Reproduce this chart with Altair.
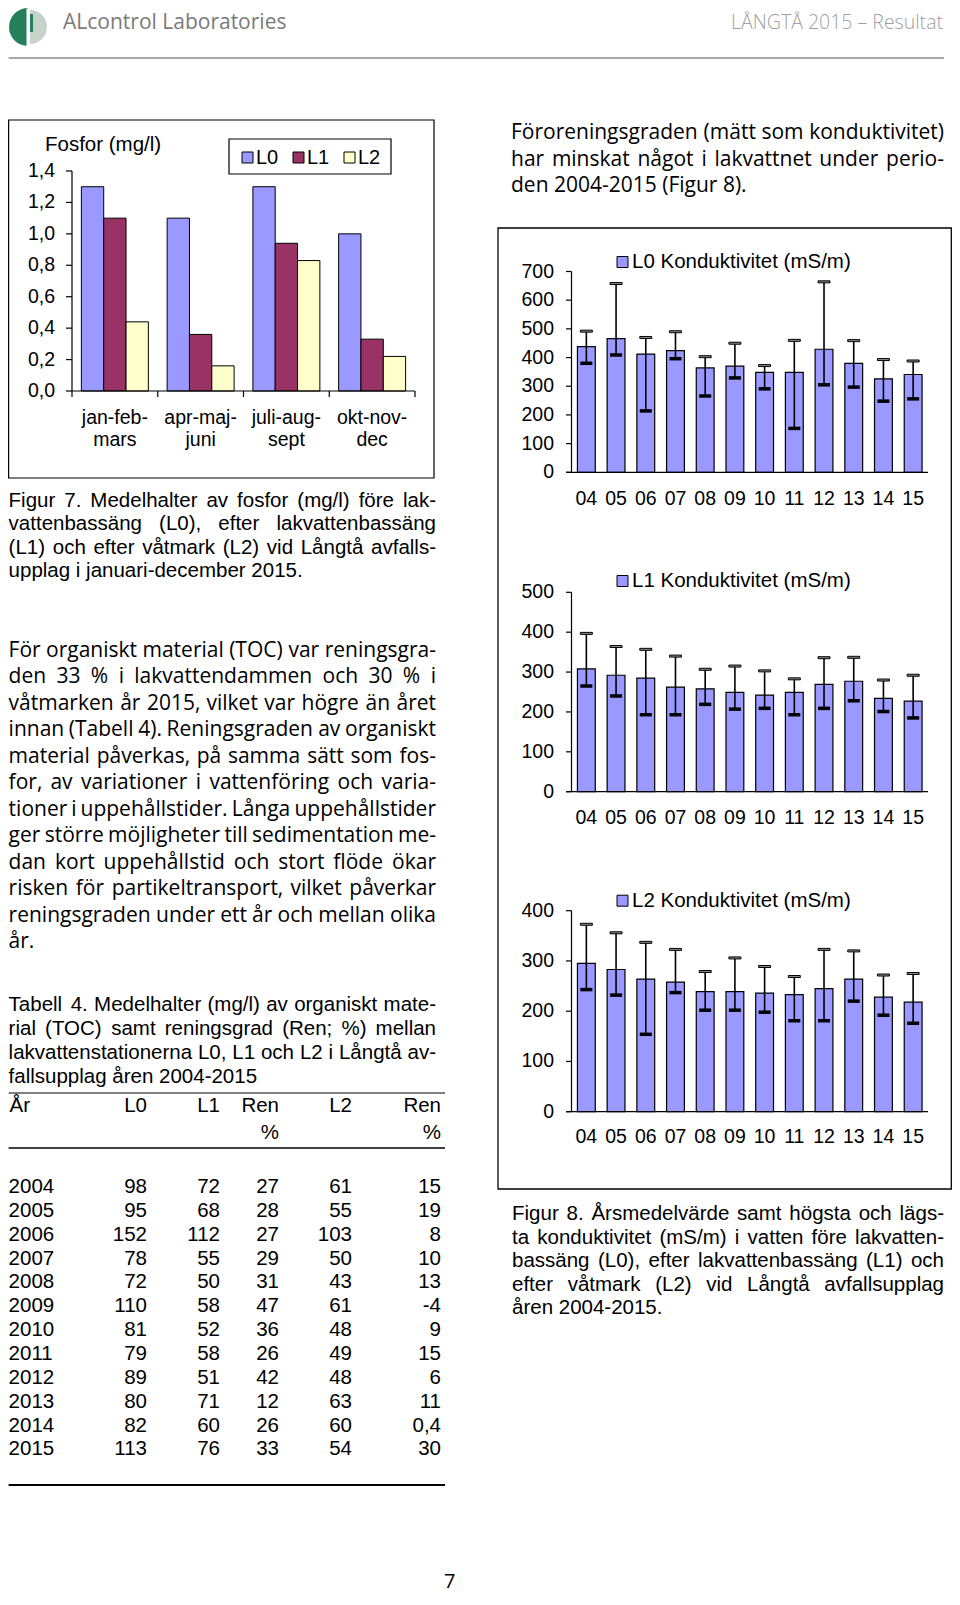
import altair as alt
import pandas as pd

# ---------------- data ----------------
FOSFOR_PERIODS = ["jan-feb-mars", "apr-maj-juni", "juli-aug-sept", "okt-nov-dec"]
FOSFOR_LABEL_1 = ["jan-feb-", "apr-maj-", "juli-aug-", "okt-nov-"]
FOSFOR_LABEL_2 = ["mars", "juni", "sept", "dec"]
FOSFOR_SERIES = ["L0", "L1", "L2"]
FOSFOR_L0 = [1.30, 1.10, 1.30, 1.00]
FOSFOR_L1 = [1.10, 0.36, 0.94, 0.33]
FOSFOR_L2 = [0.44, 0.16, 0.83, 0.22]
FOSFOR_TICKS = [0.0, 0.2, 0.4, 0.6, 0.8, 1.0, 1.2, 1.4]
FOSFOR_TICK_LABELS = ["0,0", "0,2", "0,4", "0,6", "0,8", "1,0", "1,2", "1,4"]
FOSFOR_TITLE = "Fosfor (mg/l)"

YEARS = ["04", "05", "06", "07", "08", "09", "10", "11", "12", "13", "14", "15"]
L0_MEAN = [438, 466, 412, 424, 364, 370, 348, 348, 429, 380, 326, 341]
L0_MAX = [492, 658, 470, 490, 403, 450, 372, 460, 664, 459, 393, 388]
L0_MIN = [380, 409, 214, 396, 266, 329, 291, 153, 305, 297, 248, 256]
L1_MEAN = [308, 292, 285, 262, 258, 249, 242, 249, 269, 277, 234, 227]
L1_MAX = [397, 364, 357, 340, 307, 315, 303, 283, 336, 337, 280, 292]
L1_MIN = [265, 240, 193, 193, 219, 207, 209, 193, 209, 228, 201, 185]
L2_MEAN = [295, 283, 264, 258, 239, 239, 236, 233, 245, 264, 228, 218]
L2_MAX = [373, 356, 337, 323, 279, 306, 289, 269, 323, 320, 272, 275]
L2_MIN = [243, 232, 154, 237, 202, 202, 198, 181, 181, 220, 192, 176]
L0_TICKS = [0, 100, 200, 300, 400, 500, 600, 700]
L1_TICKS = [0, 100, 200, 300, 400, 500]
L2_TICKS = [0, 100, 200, 300, 400]
KOND_TITLES = ["L0 Konduktivitet (mS/m)", "L1 Konduktivitet (mS/m)", "L2 Konduktivitet (mS/m)"]

TABLE_HEAD = ["År", "L0", "L1", "Ren", "L2", "Ren"]
TABLE_HEAD2 = ["", "", "", "%", "", "%"]
TABLE_YEAR = ["2004", "2005", "2006", "2007", "2008", "2009", "2010", "2011", "2012", "2013", "2014", "2015"]
TABLE_L0 = ["98", "95", "152", "78", "72", "110", "81", "79", "89", "80", "82", "113"]
TABLE_L1 = ["72", "68", "112", "55", "50", "58", "52", "58", "51", "71", "60", "76"]
TABLE_REN1 = ["27", "28", "27", "29", "31", "47", "36", "26", "42", "12", "26", "33"]
TABLE_L2 = ["61", "55", "103", "50", "43", "61", "48", "49", "48", "63", "60", "54"]
TABLE_REN2 = ["15", "19", "8", "10", "13", "-4", "9", "15", "6", "11", "0,4", "30"]

HEADER_LEFT = "ALcontrol Laboratories"
HEADER_RIGHT = "LÅNGTÅ 2015 – Resultat"
PAGE_NO = "7"

FIG7_CAPTION = [
    "Figur 7. Medelhalter av fosfor (mg/l) före lak-",
    "vattenbassäng (L0), efter lakvattenbassäng",
    "(L1) och efter våtmark (L2) vid Långtå avfalls-",
    "upplag i januari-december 2015.",
]
LEFT_PARAGRAPH = [
    "För organiskt material (TOC) var reningsgra-",
    "den 33 % i lakvattendammen och 30 % i",
    "våtmarken år 2015, vilket var högre än året",
    "innan (Tabell 4). Reningsgraden av organiskt",
    "material påverkas, på samma sätt som fos-",
    "for, av variationer i vattenföring och varia-",
    "tioner i uppehållstider. Långa uppehållstider",
    "ger större möjligheter till sedimentation me-",
    "dan kort uppehållstid och stort flöde ökar",
    "risken för partikeltransport, vilket påverkar",
    "reningsgraden under ett år och mellan olika",
    "år.",
]
TABLE_CAPTION = [
    "Tabell 4. Medelhalter (mg/l) av organiskt mate-",
    "rial (TOC) samt reningsgrad (Ren; %) mellan",
    "lakvattenstationerna L0, L1 och L2 i Långtå av-",
    "fallsupplag åren 2004-2015",
]
RIGHT_PARAGRAPH = [
    "Föroreningsgraden (mätt som konduktivitet)",
    "har minskat något i lakvattnet under perio-",
    "den 2004-2015 (Figur 8).",
]
FIG8_CAPTION = [
    "Figur 8. Årsmedelvärde samt högsta och lägs-",
    "ta konduktivitet (mS/m) i vatten före lakvatten-",
    "bassäng (L0), efter lakvattenbassäng (L1) och",
    "efter våtmark (L2) vid Långtå avfallsupplag",
    "åren 2004-2015.",
]

# ---------------- styles ----------------
FA = "Liberation Sans, Arial, sans-serif"
FO = "Open Sans, sans-serif"
C0, C1, C2 = "#9999FF", "#993366", "#FFFFCC"
SERIES_COLORS = [C0, C1, C2]

# approximate glyph advance widths (em) for justification
ARIAL_W = {" ": .278, "%": .889, "(": .333, ")": .333, ",": .278, "-": .333, ".": .278,
           "/": .278, ":": .278, ";": .278, "å": .556, "ä": .556, "ö": .556,
           "Å": .667, "Ä": .667, "Ö": .778}
for _d in "0123456789":
    ARIAL_W[_d] = .556
for _c, _w in zip("ABCDEFGHIJKLMNOPQRSTUVWXYZ",
                  [667, 667, 722, 722, 667, 611, 778, 722, 278, 500, 667, 556, 833, 722, 778, 667, 778, 722, 667, 611, 722, 667, 944, 667, 667, 611]):
    ARIAL_W[_c] = _w / 1000
for _c, _w in zip("abcdefghijklmnopqrstuvwxyz",
                  [556, 556, 500, 556, 556, 278, 556, 556, 222, 222, 500, 222, 833, 556, 556, 556, 556, 333, 500, 278, 556, 500, 722, 500, 500, 500]):
    ARIAL_W[_c] = _w / 1000
OPEN_W = {" ": 532, "%": 1706, "(": 608, ")": 608, ",": 496, "-": 659, ".": 545, "/": 752,
          ":": 545, ";": 545, "å": 1139, "ä": 1139, "ö": 1237, "Å": 1296, "Ä": 1296, "Ö": 1599}
for _d in "0123456789":
    OPEN_W[_d] = 1171
for _c, _w in zip("ABCDEFGHIJKLMNOPQRSTUVWXYZ",
                  [1296, 1327, 1292, 1493, 1139, 1057, 1491, 1511, 571, 547, 1257, 1073, 1849, 1520, 1599, 1208, 1599, 1309, 1139, 1147, 1509, 1202, 1860, 1163, 1149, 1133]):
    OPEN_W[_c] = _w
for _c, _w in zip("abcdefghijklmnopqrstuvwxyz",
                  [1139, 1255, 975, 1255, 1149, 694, 1122, 1257, 518, 518, 1075, 518, 1905, 1257, 1237, 1255, 1255, 836, 977, 723, 1257, 1026, 1593, 1073, 1028, 977]):
    OPEN_W[_c] = _w
OPEN_W = {k: v / 2048 for k, v in OPEN_W.items()}

OFF = 8      # page margin
LEFT = 8.6   # left edge of the left column (page coordinates)
RIGHT_EDGE = 951.3  # right edge of the figure-8 frame (page coordinates)


def txt(rows, font, size, align="left", color="#000000", weight="normal"):
    df = pd.DataFrame(rows, columns=["x", "y", "t"])
    df["x"] = df["x"] - OFF
    df["y"] = df["y"] - OFF
    return alt.Chart(df).mark_text(font=font, fontSize=size, align=align, baseline="middle",
                                   color=color, fontWeight=weight).encode(
        x=alt.X("x:Q", scale=None), y=alt.Y("y:Q", scale=None), text=alt.Text("t:N"))


def rules(rows, color="#000000", width=1.0):
    df = pd.DataFrame(rows, columns=["x", "y", "x2", "y2"]) - OFF
    return alt.Chart(df).mark_rule(color=color, strokeWidth=width).encode(
        x=alt.X("x:Q", scale=None), y=alt.Y("y:Q", scale=None), x2="x2:Q", y2="y2:Q")


def rects(rows, stroke="#000000", width=1.0, fill_opacity=1.0):
    df = pd.DataFrame(rows, columns=["x", "y", "x2", "y2", "c"])
    for k in ["x", "y", "x2", "y2"]:
        df[k] = df[k] - OFF
    return alt.Chart(df).mark_rect(stroke=stroke, strokeWidth=width, fillOpacity=fill_opacity).encode(
        x=alt.X("x:Q", scale=None), y=alt.Y("y:Q", scale=None), x2="x2:Q", y2="y2:Q",
        fill=alt.Fill("c:N", scale=None))


def justify(lines_, left, right, y0, dy, fs, table, font):
    L, R = [], []

    def width(s):
        return sum(table.get(c, 0.55) for c in s) * fs

    for i, line in enumerate(lines_):
        y = y0 + i * dy
        words = line.split(" ")
        if i == len(lines_) - 1 or len(words) < 2:
            L.append((left, y, line))
            continue
        ws = [width(w) for w in words]
        gap = max((right - left - sum(ws)) / (len(words) - 1), 0.18 * fs)
        x = left
        for w, wd in zip(words[:-1], ws[:-1]):
            L.append((x, y, w))
            x += wd + gap
        R.append((right, y, words[-1]))
    return [txt(L, font, fs), txt(R, font, fs, align="right")]


layers = []

# ---------------- header ----------------
one = pd.DataFrame({"a": [0]})
layers.append(alt.Chart(one).mark_arc(radius=17, theta=0, theta2=6.2832, color="#c6d3ca").encode(
    x=alt.value(30 - OFF), y=alt.value(27 - OFF)))
layers.append(alt.Chart(one).mark_arc(radius=19, theta=3.1416, theta2=6.2832, color="#23805a").encode(
    x=alt.value(28 - OFF), y=alt.value(27 - OFF)))
layers.append(rects([(26.5, 8.5, 30, 46, "#ffffff")], stroke="#ffffff", width=0))
layers.append(rects([(30, 14, 33, 32, "#23805a")], stroke="#23805a", width=0))
layers.append(txt([(63, 22.5, HEADER_LEFT)], FO, 21, color="#7a7a7a"))
layers.append(txt([(943, 22.5, HEADER_RIGHT)], FO, 19.5, align="right", color="#a0a0a0", weight=300))
layers.append(rules([(LEFT, 58, 944, 58)], color="#a8a8a8", width=2))

# ---------------- Figur 7: fosfor chart ----------------
layers.append(rects([(LEFT, 120, 434, 478, "#ffffff")], stroke="#000000", width=1.2))
fx = alt.Scale(domain=FOSFOR_PERIODS, range=[72 - OFF, 415 - OFF], paddingInner=0, paddingOuter=0)
fy = alt.Scale(domain=[0, 1.4], range=[391 - OFF, 171 - OFF])
FX = alt.X("period:N", scale=fx, axis=None, sort=FOSFOR_PERIODS)
fdf = pd.DataFrame({
    "period": [p for p in FOSFOR_PERIODS for _ in FOSFOR_SERIES],
    "series": FOSFOR_SERIES * len(FOSFOR_PERIODS),
    "value": [v for trip in zip(FOSFOR_L0, FOSFOR_L1, FOSFOR_L2) for v in trip],
})
f_bars = alt.Chart(fdf).mark_bar(stroke="#000000", strokeWidth=1).encode(
    x=FX,
    xOffset=alt.XOffset("series:N", sort=FOSFOR_SERIES,
                        scale=alt.Scale(domain=FOSFOR_SERIES, paddingInner=0, paddingOuter=0.42)),
    y=alt.Y("value:Q", scale=fy, axis=None),
    fill=alt.Fill("series:N", scale=alt.Scale(domain=FOSFOR_SERIES, range=SERIES_COLORS), legend=None),
)
fax = pd.DataFrame({"a": [0.0], "b": [1.4]})
f_yaxis = alt.Chart(fax).mark_rule(color="#000000", strokeWidth=1.2).encode(
    x=alt.value(72 - OFF), y=alt.Y("a:Q", scale=fy, axis=None), y2="b:Q")
f_xaxis = alt.Chart(fax).mark_rule(color="#000000", strokeWidth=1.2).encode(
    y=alt.Y("a:Q", scale=fy, axis=None), x=alt.value(72 - OFF), x2=alt.value(415 - OFF))
ftk = pd.DataFrame({"v": FOSFOR_TICKS, "lab": FOSFOR_TICK_LABELS})
f_yticks = alt.Chart(ftk).mark_rule(color="#000000", strokeWidth=1.2).encode(
    y=alt.Y("v:Q", scale=fy, axis=None), x=alt.value(66 - OFF), x2=alt.value(72 - OFF))
f_ylabels = alt.Chart(ftk).mark_text(font=FA, fontSize=19.5, align="right", baseline="middle").encode(
    y=alt.Y("v:Q", scale=fy, axis=None), x=alt.value(55 - OFF), text="lab:N")
fper = pd.DataFrame({"period": FOSFOR_PERIODS, "l1": FOSFOR_LABEL_1, "l2": FOSFOR_LABEL_2})
f_xticks = alt.Chart(fper).mark_rule(color="#000000", strokeWidth=1.2).encode(
    x=alt.X("period:N", scale=fx, axis=None, sort=FOSFOR_PERIODS, bandPosition=0),
    y=alt.value(391 - OFF), y2=alt.value(397 - OFF))
f_xtick_end = alt.Chart(fper.tail(1)).mark_rule(color="#000000", strokeWidth=1.2).encode(
    x=alt.X("period:N", scale=fx, axis=None, sort=FOSFOR_PERIODS, bandPosition=1),
    y=alt.value(391 - OFF), y2=alt.value(397 - OFF))
f_xlab1 = alt.Chart(fper).mark_text(font=FA, fontSize=19.5, baseline="middle").encode(
    x=FX, y=alt.value(418 - OFF), text="l1:N")
f_xlab2 = alt.Chart(fper).mark_text(font=FA, fontSize=19.5, baseline="middle").encode(
    x=FX, y=alt.value(440 - OFF), text="l2:N")
layers.append(alt.layer(f_bars, f_yaxis, f_xaxis, f_yticks, f_ylabels, f_xticks, f_xtick_end, f_xlab1, f_xlab2))
layers.append(txt([(45, 145, FOSFOR_TITLE)], FA, 20.5))
# legend
layers.append(rects([(229, 139, 391, 174, "#ffffff")], stroke="#000000", width=1.2))
leg_x = [242, 293, 344]
layers.append(rects([(x, 152, x + 11, 163, c) for x, c in zip(leg_x, SERIES_COLORS)], stroke="#000000", width=1))
layers.append(txt([(x + 14, 158, s) for x, s in zip(leg_x, FOSFOR_SERIES)], FA, 20))

# ---------------- text, left column ----------------
layers += justify(FIG7_CAPTION, LEFT, 436, 500.5, 23.5, 20.5, ARIAL_W, FA)
layers += justify(LEFT_PARAGRAPH, LEFT, 436, 651, 26.45, 21, OPEN_W, FO)
layers += justify(TABLE_CAPTION, LEFT, 436, 1005, 23.9, 20.5, ARIAL_W, FA)

# ---------------- table ----------------
col_x = [LEFT + 1, 147, 220, 279, 352, 441]
col_align = ["left", "right", "right", "right", "right", "right"]
layers.append(rules([(LEFT, 1093, 445, 1093)], width=1.2))
layers.append(rules([(LEFT, 1148, 445, 1148)], width=1.6))
layers.append(rules([(LEFT, 1485, 445, 1485)], width=1.8))
table_cols = [TABLE_YEAR, TABLE_L0, TABLE_L1, TABLE_REN1, TABLE_L2, TABLE_REN2]
for j in range(6):
    rows = [(col_x[j], 1106, TABLE_HEAD[j])]
    if TABLE_HEAD2[j]:
        rows.append((col_x[j], 1133, TABLE_HEAD2[j]))
    rows += [(col_x[j] - (1 if j == 0 else 0), 1187 + i * 23.85, v) for i, v in enumerate(table_cols[j])]
    layers.append(txt(rows, FA, 20.5, align=col_align[j]))

# ---------------- right column ----------------
layers += justify(RIGHT_PARAGRAPH, 511, 944, 133, 26.5, 21, OPEN_W, FO)
layers.append(rects([(498, 228, RIGHT_EDGE, 1189, "#ffffff")], stroke="#000000", width=1.3))

KX0, KX1 = 571.5, 928


def kond_panel(mean, mx, mn, ymax, ticks, y0, ytop, label_y):
    df = pd.DataFrame({"year": YEARS, "mean": mean, "max": mx, "min": mn})
    xs = alt.Scale(domain=YEARS, range=[KX0 - OFF, KX1 - OFF], paddingInner=0.4, paddingOuter=0.2)
    ys = alt.Scale(domain=[0, ymax], range=[y0 - OFF, ytop - OFF])
    X = alt.X("year:N", scale=xs, axis=None, sort=YEARS)
    base = alt.Chart(df)
    bars = base.mark_bar(fill=C0, stroke="#000000", strokeWidth=1.2).encode(
        x=X, y=alt.Y("mean:Q", scale=ys, axis=None))
    err = base.mark_rule(color="#000000", strokeWidth=1.6).encode(
        x=X, y=alt.Y("min:Q", scale=ys, axis=None), y2="max:Q")
    cap_hi = base.mark_tick(fill="#8c8c8c", stroke="#000000", strokeWidth=1, size=12, thickness=2,
                            opacity=1).encode(x=X, y=alt.Y("max:Q", scale=ys, axis=None))
    cap_lo = base.mark_tick(color="#000000", size=12, thickness=3.5, opacity=1).encode(
        x=X, y=alt.Y("min:Q", scale=ys, axis=None))
    ax = pd.DataFrame({"a": [0], "b": [ymax]})
    yaxis = alt.Chart(ax).mark_rule(color="#000000", strokeWidth=1.2).encode(
        x=alt.value(KX0 - OFF), y=alt.Y("a:Q", scale=ys, axis=None), y2="b:Q")
    xaxis = alt.Chart(ax).mark_rule(color="#000000", strokeWidth=1.2).encode(
        y=alt.Y("a:Q", scale=ys, axis=None), x=alt.value(KX0 - 5.5 - OFF), x2=alt.value(KX1 - OFF))
    tdf = pd.DataFrame({"v": ticks, "lab": [str(t) for t in ticks]})
    yticks = alt.Chart(tdf).mark_rule(color="#000000", strokeWidth=1.2).encode(
        y=alt.Y("v:Q", scale=ys, axis=None), x=alt.value(KX0 - 5.5 - OFF), x2=alt.value(KX0 - OFF))
    ylabels = alt.Chart(tdf).mark_text(font=FA, fontSize=19.5, align="right", baseline="middle").encode(
        y=alt.Y("v:Q", scale=ys, axis=None), x=alt.value(554 - OFF), text="lab:N")
    xlabels = base.mark_text(font=FA, fontSize=19.5, baseline="middle").encode(
        x=X, y=alt.value(label_y - OFF), text="year:N")
    return alt.layer(bars, err, cap_hi, cap_lo, yaxis, xaxis, yticks, ylabels, xlabels)


layers.append(kond_panel(L0_MEAN, L0_MAX, L0_MIN, 700, L0_TICKS, 472.3, 271.5, 498.5))
layers.append(kond_panel(L1_MEAN, L1_MAX, L1_MIN, 500, L1_TICKS, 791.7, 592.3, 818))
layers.append(kond_panel(L2_MEAN, L2_MAX, L2_MIN, 400, L2_TICKS, 1111.7, 910.7, 1137))
legend_y = [262, 581, 900.7]
layers.append(rects([(617, y - 5.5, 628, y + 5.5, C0) for y in legend_y], stroke="#000000", width=1))
layers.append(txt([(632, y, t) for y, t in zip(legend_y, KOND_TITLES)], FA, 20.5))

layers += justify(FIG8_CAPTION, 512, 944, 1214, 23.5, 20.5, ARIAL_W, FA)
layers.append(txt([(444, 1582, PAGE_NO)], FO, 20))

chart = alt.layer(*layers).resolve_scale(
    x="independent", y="independent", fill="independent", xOffset="independent"
).properties(
    width=944, height=1589, padding=0, autosize=alt.AutoSizeParams(type="none"), background="#ffffff"
).configure_view(stroke=None)

chart.save("out.html", embed_options={"renderer": "svg", "actions": False})
